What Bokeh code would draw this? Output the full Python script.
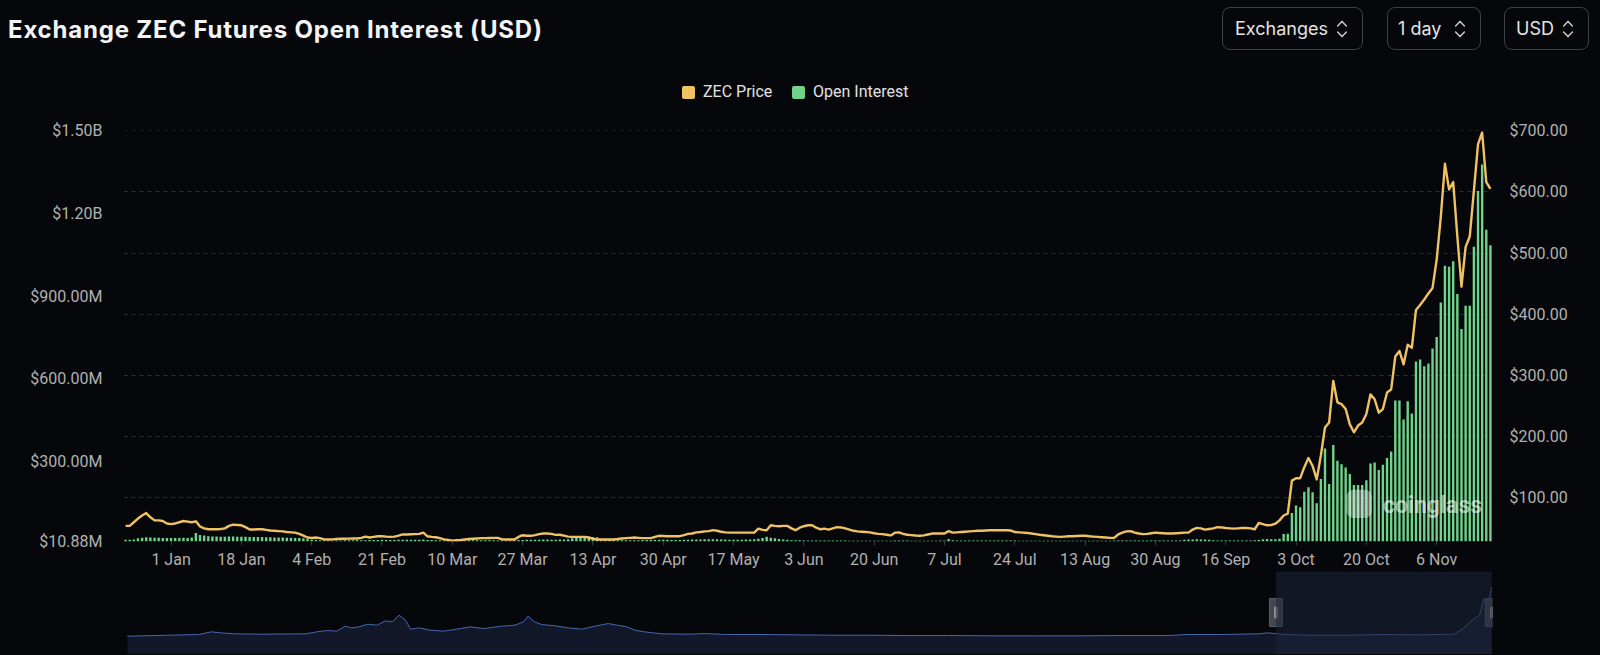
import pandas as pd
from bokeh.plotting import figure
from bokeh.layouts import column
from bokeh.models import (Range1d, LinearAxis, FixedTicker, NumeralTickFormatter, Label,
                          BoxAnnotation, Div)
from bokeh.embed import file_html
from bokeh.resources import INLINE

# ---------------- data ----------------
TITLE = "Exchange ZEC Futures Open Interest (USD)"
SERIES_NAMES = ["ZEC Price", "Open Interest"]
CONTROLS = ["Exchanges", "1 day", "USD"]

FIRST_DAY = "2024-12-21"
LAST_DAY = "2025-11-19"
MISSING_DAYS = ["2025-08-01", "2025-08-02", "2025-08-03"]

# Open interest, millions of USD, one value per day
OI_M = [
    17, 17, 18, 22, 24, 26, 25, 24.5, 24, 23.5,
    23, 23, 23, 23.5, 24, 23.5, 25, 41, 34, 32,
    30, 29, 28.5, 28, 28, 28.5, 29, 28, 28, 27.5,
    27, 27, 26.5, 26.5, 26, 26, 25.5, 25.5, 25, 24.5,
    24, 23.5, 23, 22, 20.5, 18, 16, 15.5, 15, 14.5,
    14.5, 14.5, 14.5, 15, 15, 15, 15, 15.5, 15.5, 16,
    16, 16, 16.5, 16, 16, 16, 16.5, 16.5, 17, 17,
    17, 17, 17.5, 16, 16, 15.5, 15, 14.5, 14, 14,
    14, 14.5, 14.5, 15, 15, 15, 15, 15, 15, 15,
    14.5, 14.5, 14, 14, 15, 16, 16, 16.5, 16.5, 17,
    17, 17.5, 17.5, 17, 17, 17.5, 18, 19, 22, 24,
    26, 27, 28, 27, 26, 20, 17, 16, 15.5, 15,
    15, 15, 15, 15.5, 15.5, 16, 16, 16, 16.5, 16.5,
    16.5, 16.5, 16, 16, 16, 16.5, 17, 17.5, 18, 18,
    18.5, 19, 19, 18.5, 18, 17.5, 17, 17, 17, 17,
    17.5, 18, 19, 21, 23, 28, 24, 22, 20, 18,
    16.5, 15.5, 15, 15, 14.5, 14.5, 14.5, 14.5, 14, 14,
    14, 14, 14, 14, 14, 13.5, 13.5, 13.5, 13.5, 13.5,
    13.5, 13.5, 13.5, 13.5, 13.5, 13.5, 14, 14, 14, 14,
    13.5, 13.5, 13.5, 13.5, 13.5, 13.5, 13.5, 14, 14, 20,
    15, 14, 14, 14, 14.5, 14.5, 14, 14, 14, 14,
    14, 14, 14.5, 14.5, 14, 14, 13.5, 13.5, 13.5, 13.5,
    13.5, 13.5, 13, 13, 13, 13, 13, 13, 13, 13,
    13, 13, 13.5, 13.5, 13.5, 13.5, 13.5, 13.5, 13.5, 14,
    14, 14, 14, 14, 14, 14, 14, 14, 14, 14,
    14, 14, 14, 14, 14, 14.5, 17, 18, 18, 18.5,
    18, 17.5, 17, 15, 14.5, 14.5, 14.5, 14.5, 14.5, 14.5,
    14.5, 14.5, 14.5, 15, 16, 19, 19.5, 19, 18.5, 21,
    38, 38.5, 114, 141, 135, 191, 207, 189, 149, 237,
    348, 219, 360, 303, 291, 279, 255, 215, 215, 215,
    233, 293, 297, 270, 289, 313, 337, 522, 522, 453,
    519, 475, 663, 670, 646, 656, 710, 752, 877, 1010,
    1007, 1027, 908, 781, 865, 865, 1079, 1281, 1377, 1141, 1085,
]

# ZEC price, USD, one value per day
PRICE = [
    54, 54, 60, 66, 71, 75, 68, 63, 63, 62,
    58, 57, 58, 60, 62, 61, 60, 61.5, 53, 50,
    48.5, 48.5, 48.5, 49, 50, 54, 56, 55.5, 55, 52,
    48, 48, 48.5, 48.5, 47.5, 46.5, 46, 45.5, 45, 44,
    43.5, 43, 41, 38, 35, 34.5, 35, 34, 32, 31.7,
    32, 32.5, 33, 33, 33.2, 33.4, 33.4, 34.5, 36.5, 35,
    36, 37, 37.2, 36.5, 36, 36.5, 38, 40, 40, 40.3,
    40.5, 41, 43, 37, 36, 35.5, 34, 32, 31, 30,
    30.5, 31, 31.7, 32.5, 33, 33.5, 34, 34, 34.2, 34.5,
    34.5, 32, 31.7, 31.7, 31.7, 36, 38.8, 38, 37.8, 39,
    40.5, 41.6, 41.6, 41, 39.4, 39.5, 38, 36.5, 36, 36,
    36, 36, 35, 33, 31.7, 31.7, 31.7, 31.7, 31.7, 32.5,
    33.5, 34, 34.5, 35, 34.5, 34, 34, 34, 36, 37.8,
    37.5, 37.2, 37.2, 37.2, 37.2, 39, 41, 41.6, 43.5, 44,
    45, 45.5, 47, 46, 44.5, 43.5, 43, 43, 43, 43,
    43, 43, 43, 49.6, 47.5, 47, 55, 54, 53.5, 54,
    54, 50, 47, 51, 53.5, 55, 55, 51, 48.5, 49.6,
    48, 50, 52, 51.5, 50, 48, 46, 45, 44.5, 44,
    43.5, 42, 41, 40.5, 39.5, 38.5, 43, 43.5, 41, 39.5,
    39, 38.2, 37.8, 38.5, 40, 41.5, 41.6, 41.6, 41.6, 45.5,
    43, 43.5, 44, 44.5, 45, 45.5, 46, 46, 46.5, 47,
    47, 47, 47, 47, 46.5, 44, 43.5, 43, 42.5, 41.5,
    40.5, 39.5, 38.8, 38, 37, 36.5, 36, 36.5, 37, 37.2,
    37.5, 37.8, 37.8, 37, 36.5, 36, 35.5, 35, 34.5, 34.5,
    40, 43, 45, 45.5, 43, 41.6, 40.5, 41, 42, 43,
    42.5, 42, 41.6, 41.6, 42, 42.5, 43, 43, 48, 50.7,
    50, 48, 49, 50, 52, 51.5, 50.5, 50, 49.6, 50,
    50.5, 50.7, 50, 48.5, 59, 57, 55, 55.5, 57.6, 63,
    71, 74, 128, 132, 132, 150, 165, 152, 130, 169,
    215, 223, 291, 256, 253, 245, 220, 207, 218, 223,
    237, 269, 261, 239, 245, 272, 277, 331, 340, 318,
    350, 345, 407, 415, 424, 434, 443, 489, 559, 646,
    604, 616, 527, 445, 510, 527, 602, 678, 697, 616, 605,
]

TICK_DATES = ["2025-01-01", "2025-01-18", "2025-02-04", "2025-02-21", "2025-03-10",
              "2025-03-27", "2025-04-13", "2025-04-30", "2025-05-17", "2025-06-03",
              "2025-06-20", "2025-07-07", "2025-07-24", "2025-08-13", "2025-08-30",
              "2025-09-16", "2025-10-03", "2025-10-20", "2025-11-06"]
TICK_LABELS = ["1 Jan", "18 Jan", "4 Feb", "21 Feb", "10 Mar", "27 Mar", "13 Apr",
               "30 Apr", "17 May", "3 Jun", "20 Jun", "7 Jul", "24 Jul", "13 Aug",
               "30 Aug", "16 Sep", "3 Oct", "20 Oct", "6 Nov"]

OI_TICKS = [10880000, 300000000, 600000000, 900000000, 1200000000, 1500000000]
OI_TICK_LABELS = ["$10.88M", "$300.00M", "$600.00M", "$900.00M", "$1.20B", "$1.50B"]
PRICE_TICKS = [100, 200, 300, 400, 500, 600, 700]
PRICE_MIN, PRICE_MAX = 28.5, 700

# overview navigator: long-run ZEC price history
NAV_DATES = ["2020-02-14", "2020-06-03", "2020-06-23", "2020-07-07", "2020-07-28", "2020-09-07",
             "2020-11-15", "2020-12-05", "2020-12-19", "2021-01-02", "2021-01-15", "2021-01-25",
             "2021-02-05", "2021-02-19", "2021-03-05", "2021-03-18", "2021-03-29", "2021-04-08",
             "2021-04-18", "2021-04-26", "2021-05-09", "2021-05-26", "2021-06-16", "2021-07-06",
             "2021-07-27", "2021-08-17", "2021-09-13", "2021-10-04", "2021-10-17", "2021-10-24",
             "2021-11-03", "2021-11-14", "2021-12-05", "2021-12-25", "2022-01-15", "2022-02-04",
             "2022-02-25", "2022-03-11", "2022-03-25", "2022-04-07", "2022-04-21", "2022-05-19",
             "2022-06-29", "2022-07-26", "2022-08-23", "2022-10-17", "2022-12-11", "2023-02-04",
             "2023-03-31", "2023-05-25", "2023-08-02", "2023-10-09", "2023-12-16", "2024-02-23",
             "2024-05-02", "2024-07-09", "2024-08-06", "2024-09-30", "2024-11-24", "2024-12-08",
             "2025-01-04", "2025-02-14", "2025-04-10", "2025-06-04", "2025-07-29", "2025-09-22",
             "2025-10-06", "2025-10-20", "2025-10-31", "2025-11-07", "2025-11-13", "2025-11-19"]
NAV_PRICE = [25, 49, 86, 72, 58, 53,
             58, 90, 104, 95, 164, 141,
             155, 192, 178, 238, 225, 317,
             248, 123, 141, 109, 95, 123,
             155, 132, 164, 178, 225, 303,
             225, 188, 169, 141, 123, 164,
             201, 178, 155, 109, 86, 58,
             53, 62, 49, 49, 44, 39,
             39, 35, 35, 30, 30, 30,
             35, 35, 49, 49, 58, 72,
             49, 39, 39, 49, 44, 53,
             132, 248, 317, 549, 479, 705]
NAV_START, NAV_END = "2020-02-08", "2025-11-20"

assert len(OI_M) == len(PRICE)

# ---------------- derived ----------------
days = pd.date_range(FIRST_DAY, LAST_DAY, freq="D")
days = days[~days.isin(pd.to_datetime(MISSING_DAYS))]
assert len(days) == len(PRICE), (len(days), len(PRICE))
idx = list(range(len(days)))
oi_usd = [v * 1e6 for v in OI_M]
day_pos = {d.strftime("%Y-%m-%d"): i for i, d in enumerate(days)}
tick_pos = [day_pos[d] for d in TICK_DATES]


def ms(d):
    return pd.Timestamp(d).value / 1e6


BG = "#06070a"
GOLD = "#efc263"
GREEN = "#6fd38a"
AXIS_TXT = "#b1b1b1"
FONT = "Roboto"
W = 1600
FRAME_L, FRAME_R = 123, 1492          # plot frame, page pixels
BORDER_L, BORDER_R = FRAME_L, W - FRAME_R

# ---------------- header (title, controls, legend) as HTML ----------------
HH = 118


def chevron(x):
    st = 'fill="none" stroke="#c9c9c9" stroke-width="1.5" stroke-linecap="round" stroke-linejoin="round"'
    return (f'<svg style="position:absolute;left:{x - 5}px;top:19px" width="10" height="20" '
            f'viewBox="0 0 10 20"><polyline points="0.6,7 5,2.4 9.4,7" {st}/>'
            f'<polyline points="0.6,13 5,17.6 9.4,13" {st}/></svg>')


parts = [f'<div style="position:relative;width:{W}px;height:{HH}px;background:{BG};overflow:hidden;">']
parts.append('<div style="position:absolute;left:8px;top:17.6px;font:700 24px/24px Inter;'
             f'letter-spacing:0.8px;color:#f4f4f4;white-space:nowrap;">{TITLE}</div>')
ctrl_boxes = [(1222, 1363), (1387, 1481), (1504, 1589)]
ctrl_text_x = [1235, 1398, 1516]
ctrl_chev_x = [1342, 1460, 1568]
for (l, r), tx, c, lab in zip(ctrl_boxes, ctrl_text_x, ctrl_chev_x, CONTROLS):
    parts.append(f'<div style="position:absolute;left:{l}px;top:7px;width:{r - l}px;height:43px;'
                 'box-sizing:border-box;border:1.2px solid #3c4048;border-radius:8px;"></div>')
    parts.append(f'<div style="position:absolute;left:{tx}px;top:20.4px;font:400 18px/18px Inter;'
                 f'color:#e4e4e4;white-space:nowrap;">{lab}</div>')
    parts.append(chevron(c))
leg_sq_x = [682, 792]
leg_txt_x = [703, 813]
for sx, tx, col, name in zip(leg_sq_x, leg_txt_x, [GOLD, GREEN], SERIES_NAMES):
    parts.append(f'<div style="position:absolute;left:{sx}px;top:85.5px;width:13px;height:13px;'
                 f'border-radius:2px;background:{col};"></div>')
    parts.append(f'<div style="position:absolute;left:{tx}px;top:83.8px;font:400 16px/16px Roboto;'
                 f'color:#e2e2e2;white-space:nowrap;">{name}</div>')
parts.append('</div>')
header = Div(text="".join(parts), width=W, height=HH, margin=0)

# ---------------- main chart ----------------
p = figure(width=W, height=453, x_range=Range1d(-0.5, len(idx) - 0.5),
           y_range=Range1d(PRICE_MIN, PRICE_MAX + 0.3), y_axis_location="right",
           output_backend="svg", toolbar_location=None,
           min_border_left=BORDER_L, min_border_right=BORDER_R, min_border_top=12,
           min_border_bottom=28,
           background_fill_color=BG, border_fill_color=BG, outline_line_color=None)
p.extra_y_ranges = {"oi": Range1d(OI_TICKS[0] - 3e5, OI_TICKS[-1] + 6e5)}

p.vbar(x=idx, top=oi_usd, bottom=0, width=0.58, fill_color=GREEN, line_color=None,
       y_range_name="oi", legend_label=SERIES_NAMES[1])
p.line(x=idx, y=PRICE, line_color=GOLD, line_width=2.4, line_join="round",
       legend_label=SERIES_NAMES[0])
p.legend.visible = False

price_ax = p.right[0]
price_ax.ticker = FixedTicker(ticks=PRICE_TICKS)
price_ax.formatter = NumeralTickFormatter(format="$0,0.00")
price_ax.major_label_standoff = 11

oi_ax = LinearAxis(y_range_name="oi", ticker=FixedTicker(ticks=OI_TICKS),
                   major_label_overrides=dict(zip(OI_TICKS, OI_TICK_LABELS)))
oi_ax.major_label_standoff = 15
p.add_layout(oi_ax, "left")

for ax in (price_ax, oi_ax):
    ax.axis_line_color = None
    ax.major_tick_line_color = None
    ax.minor_tick_line_color = None
    ax.major_label_text_color = AXIS_TXT
    ax.major_label_text_font = FONT
    ax.major_label_text_font_size = "16px"

xa = p.xaxis[0]
xa.ticker = FixedTicker(ticks=tick_pos)
xa.major_label_overrides = dict(zip(tick_pos, TICK_LABELS))
xa.axis_line_color = None
xa.major_tick_line_color = "#3a3d44"
xa.major_tick_out = 4
xa.major_tick_in = 0
xa.minor_tick_line_color = None
xa.major_label_standoff = 4
xa.major_label_text_color = AXIS_TXT
xa.major_label_text_font = FONT
xa.major_label_text_font_size = "16px"

p.xgrid.visible = False
p.ygrid.ticker = FixedTicker(ticks=PRICE_TICKS)
p.ygrid.grid_line_color = "#2c2f36"
p.ygrid.grid_line_dash = "4 4"
p.ygrid.grid_line_width = 1

# watermark (logo blob + wordmark)
p.add_layout(BoxAnnotation(left=295.2, right=301.3, bottom=67, top=113, fill_color="#ffffff",
                           fill_alpha=0.38, line_color=None, border_radius=7))
p.add_layout(Label(x=304, y=87, text="coinglass", text_font=FONT, text_font_style="bold",
                   text_font_size="23px", text_color="#ffffff", text_alpha=0.55,
                   text_baseline="middle"))

# ---------------- navigator ----------------
nav_x = [ms(d) for d in NAV_DATES]
NAV_LO, NAV_HI = -229, 924
nav = figure(width=W, height=83, x_axis_type="datetime",
             x_range=Range1d(ms(NAV_START), ms(NAV_END)), y_range=Range1d(NAV_LO, NAV_HI),
             x_axis_location=None, y_axis_location=None, output_backend="svg",
             toolbar_location=None, min_border_left=BORDER_L, min_border_right=BORDER_R,
             min_border_top=0, min_border_bottom=0,
             background_fill_color=BG, border_fill_color=BG, outline_line_color=None)
nav.xgrid.visible = False
nav.ygrid.visible = False
nav.varea(x=nav_x, y1=NAV_LO, y2=NAV_PRICE, fill_color="#121829")
nav.line(x=nav_x, y=NAV_PRICE, line_color="#4766ad", line_width=1)
sel_l, sel_r = ms(FIRST_DAY), ms(LAST_DAY)
nav.add_layout(BoxAnnotation(left=sel_l, right=sel_r, fill_color="#1c243a", fill_alpha=0.55,
                             line_color=None))
hy_nav = 354
nav.rect(x=[sel_l, sel_r], y=[hy_nav, hy_nav], width=13, height=28, width_units="screen",
         height_units="screen", fill_color="#43474f", line_color="#585c66")
grip = 1.6 * 86400000
nav.segment(x0=[sel_l - grip, sel_l + grip, sel_r - grip, sel_r + grip],
            x1=[sel_l - grip, sel_l + grip, sel_r - grip, sel_r + grip],
            y0=[hy_nav - 80] * 4, y1=[hy_nav + 80] * 4, line_color="#cfcfcf", line_width=1)

layout = column(header, p, nav, spacing=0, styles={"background-color": BG})

html = file_html(layout, INLINE)
html = html.replace("<head>", "<head><style>html,body{background:%s;}</style>" % BG, 1)
open("out.html", "w").write(html)
